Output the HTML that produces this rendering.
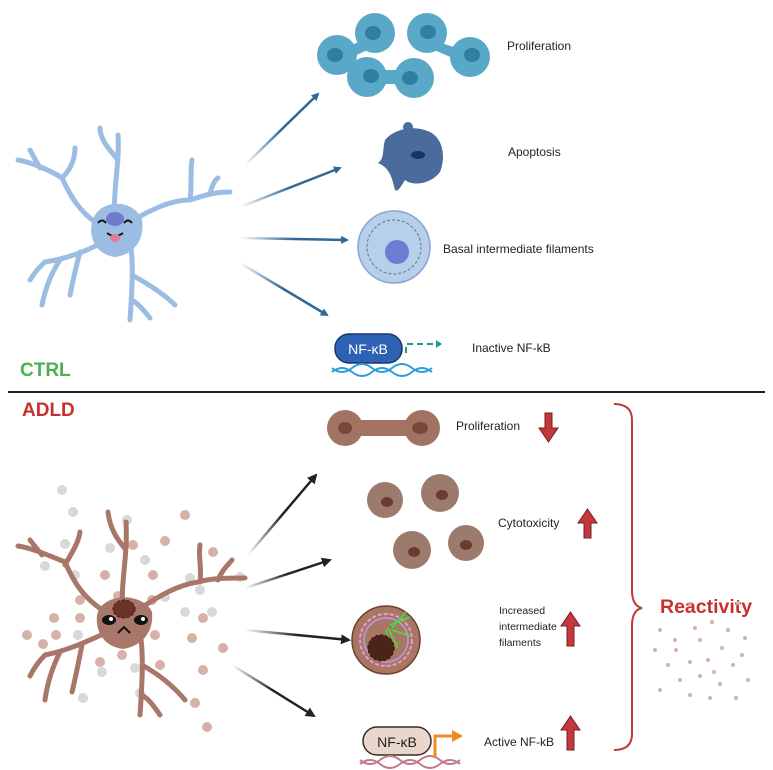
<!DOCTYPE html>
<html><head><meta charset="utf-8"><style>
html,body{margin:0;padding:0;background:#fff}
svg{display:block}
text{font-family:"Liberation Sans",sans-serif}
</style></head><body>
<svg width="773" height="770" viewBox="0 0 773 770" xmlns="http://www.w3.org/2000/svg">
<defs>
<linearGradient id="gb" x1="0" y1="0" x2="1" y2="0"><stop offset="0" stop-color="#2f6896" stop-opacity="0"/><stop offset=".5" stop-color="#2f6896"/></linearGradient>
<linearGradient id="gk" x1="0" y1="0" x2="1" y2="0"><stop offset="0" stop-color="#222" stop-opacity="0"/><stop offset=".5" stop-color="#222"/></linearGradient>
<marker id="ab" markerWidth="8" markerHeight="8" refX="6" refY="4" orient="auto" markerUnits="userSpaceOnUse"><path d="M0,0L8,4L0,8z" fill="#2f6896"/></marker>
<marker id="ak" markerWidth="10" markerHeight="10" refX="8" refY="5" orient="auto" markerUnits="userSpaceOnUse"><path d="M0,0L10,5L0,10z" fill="#222"/></marker>
</defs>
<rect width="773" height="770" fill="#fff"/>
<line x1="8" y1="392" x2="765" y2="392" stroke="#222" stroke-width="2"/>

<g fill="none" stroke="#9bbce3" stroke-linecap="round" stroke-width="5">
<path d="M115,228 C112,190 120,165 118,135 M118,160 C110,150 100,140 100,128"/>
<path d="M105,228 C80,215 70,195 62,178 C50,170 30,162 18,160 M62,178 C70,170 75,160 75,148 M40,168 L30,150"/>
<path d="M125,225 C150,210 170,200 190,200 C205,195 215,192 230,192 M190,200 C192,185 190,172 192,160 M210,194 C212,185 215,180 218,178"/>
<path d="M110,238 C90,250 70,258 45,262 C38,268 33,275 30,280 M60,260 C50,275 45,290 42,305 M80,252 C75,270 72,285 70,295"/>
<path d="M130,242 C134,262 132,290 130,320 M132,300 C140,305 145,312 150,318 M132,275 C150,285 165,295 175,305"/>
</g>
<path d="M92,222 C98,198 134,198 142,220 C145,242 132,255 115,257 C98,255 88,240 92,222z" fill="#9bbce3"/>
<ellipse cx="115" cy="219" rx="9" ry="7" fill="#6f7cc9"/>
<path d="M98,223 q4,-5 8,0 M124,223 q4,-5 8,0" stroke="#111" stroke-width="2" fill="none"/>
<path d="M107,233 q8,6 16,0" stroke="#111" stroke-width="2" fill="none"/>
<ellipse cx="115" cy="238" rx="5" ry="4" fill="#e9799a"/>
<text x="20" y="376" font-size="19" font-weight="bold" fill="#4caf50">CTRL</text>

<g stroke="url(#gb)" stroke-width="2.5" marker-end="url(#ab)">
<line x1="245" y1="165" x2="318" y2="94"/>
<line x1="240" y1="207" x2="340" y2="168"/>
<line x1="240" y1="238" x2="347" y2="240"/>
<line x1="240" y1="263" x2="327" y2="315"/>
</g>

<g fill="#5aa8c8">
<circle cx="337" cy="55" r="20"/><circle cx="375" cy="33" r="20"/><path d="M345,48 L368,38 L372,48 L350,58z"/>
<circle cx="427" cy="33" r="20"/><circle cx="470" cy="57" r="20"/><path d="M433,40 L462,50 L457,60 L430,48z"/>
<circle cx="367" cy="77" r="20"/><circle cx="414" cy="78" r="20"/><rect x="367" y="70" width="47" height="14"/>
</g>
<g fill="#2f7ea3"><ellipse cx="335" cy="55" rx="8" ry="7"/><ellipse cx="373" cy="33" rx="8" ry="7"/><ellipse cx="428" cy="32" rx="8" ry="7"/><ellipse cx="472" cy="55" rx="8" ry="7"/><ellipse cx="371" cy="76" rx="8" ry="7"/><ellipse cx="410" cy="78" rx="8" ry="7"/></g>
<text x="507" y="50" font-size="12" fill="#222">Proliferation</text>

<path d="M385,140 C395,128 415,125 430,132 C445,140 445,160 440,172 C430,185 412,186 405,180 C400,188 398,192 395,190 C392,178 390,168 378,163 C385,158 382,150 385,140z" fill="#4a6c9c"/>
<circle cx="408" cy="127" r="5" fill="#4a6c9c"/><ellipse cx="418" cy="155" rx="7" ry="4" fill="#1b3560"/>
<text x="508" y="156" font-size="12" fill="#222">Apoptosis</text>

<circle cx="394" cy="247" r="36" fill="#b8cfe9" stroke="#88a5d3" stroke-width="1.5"/>
<circle cx="394" cy="247" r="27" fill="none" stroke="#5e7490" stroke-width="1" stroke-dasharray="3,2"/>
<circle cx="397" cy="252" r="12" fill="#6f7dd0"/>
<text x="443" y="253" font-size="12" fill="#222">Basal intermediate filaments</text>

<rect x="335" y="334" width="67" height="29" rx="14" fill="#2e62b4" stroke="#16396d" stroke-width="1.5"/>
<text x="368" y="354" font-size="14" fill="#fff" text-anchor="middle">NF-κB</text>
<path d="M332,368 q10,8 20,0 t20,0 t20,0 t20,0 t20,0 M332,372 q10,-8 20,0 t20,0 t20,0 t20,0 t20,0" stroke="#2ba0d8" stroke-width="2" fill="none"/>
<path d="M406,353 v-9 h30" stroke="#1a9b8f" stroke-width="2" stroke-dasharray="6,4" fill="none"/>
<path d="M436,340 l6,4 l-6,4z" fill="#1a9b8f"/>
<text x="472" y="352" font-size="12" fill="#222">Inactive NF-kB</text>

<text x="22" y="416" font-size="19" font-weight="bold" fill="#c8302f">ADLD</text>
<g fill="#d8d8d8"><circle cx="62" cy="490" r="5"/><circle cx="73" cy="512" r="5"/><circle cx="65" cy="544" r="5"/><circle cx="110" cy="548" r="5"/><circle cx="145" cy="560" r="5"/><circle cx="45" cy="566" r="5"/><circle cx="75" cy="575" r="5"/><circle cx="165" cy="597" r="5"/><circle cx="200" cy="590" r="5"/><circle cx="212" cy="612" r="5"/><circle cx="185" cy="612" r="5"/><circle cx="240" cy="577" r="5"/><circle cx="78" cy="635" r="5"/><circle cx="102" cy="672" r="5"/><circle cx="135" cy="668" r="5"/><circle cx="83" cy="698" r="5"/><circle cx="140" cy="693" r="5"/><circle cx="190" cy="578" r="5"/><circle cx="127" cy="520" r="5"/></g>
<g fill="#d6b1a7"><circle cx="185" cy="515" r="5"/><circle cx="133" cy="545" r="5"/><circle cx="165" cy="541" r="5"/><circle cx="213" cy="552" r="5"/><circle cx="105" cy="575" r="5"/><circle cx="153" cy="575" r="5"/><circle cx="80" cy="600" r="5"/><circle cx="54" cy="618" r="5"/><circle cx="80" cy="618" r="5"/><circle cx="27" cy="635" r="5"/><circle cx="56" cy="635" r="5"/><circle cx="43" cy="644" r="5"/><circle cx="155" cy="635" r="5"/><circle cx="192" cy="638" r="5"/><circle cx="223" cy="648" r="5"/><circle cx="203" cy="618" r="5"/><circle cx="122" cy="655" r="5"/><circle cx="100" cy="662" r="5"/><circle cx="160" cy="665" r="5"/><circle cx="203" cy="670" r="5"/><circle cx="195" cy="703" r="5"/><circle cx="207" cy="727" r="5"/><circle cx="152" cy="600" r="5"/><circle cx="118" cy="596" r="5"/></g>
<g fill="none" stroke="#a9776a" stroke-linecap="round" stroke-width="5">
<path d="M123,615 C120,580 128,560 126,522 M126,550 C118,540 110,530 108,512"/>
<path d="M110,615 C85,600 75,585 65,562 C50,556 32,548 18,546 M65,565 C70,555 78,545 80,532 M42,555 L30,540"/>
<path d="M135,612 C160,595 178,585 198,582 C212,578 228,578 245,578 M200,582 C202,568 198,555 200,545 M218,580 C222,570 228,565 232,560"/>
<path d="M112,630 C90,640 70,650 45,655 C38,662 33,670 30,676 M60,652 C52,668 47,685 45,700 M82,645 C78,665 75,680 72,692"/>
<path d="M140,632 C144,655 142,685 140,715 M142,695 C150,700 155,708 160,715 M142,665 C160,675 175,688 185,700"/>
</g>
<path d="M97,615 C102,592 143,592 152,612 C154,632 142,646 123,649 C106,647 95,634 97,615z" fill="#a9776a"/>
<ellipse cx="124" cy="609" rx="11" ry="9" fill="#6b3326" stroke="#3a1a12" stroke-dasharray="3,2"/>
<ellipse cx="109" cy="620" rx="7" ry="5" fill="#111"/><ellipse cx="141" cy="620" rx="7" ry="5" fill="#111"/>
<circle cx="111" cy="619" r="2" fill="#fff"/><circle cx="143" cy="619" r="2" fill="#fff"/>
<path d="M118,633 l6,-6 l6,6" stroke="#111" stroke-width="2" fill="none"/>

<g stroke="url(#gk)" stroke-width="2.5" marker-end="url(#ak)">
<line x1="248" y1="555" x2="316" y2="475"/>
<line x1="245" y1="588" x2="330" y2="560"/>
<line x1="245" y1="630" x2="349" y2="640"/>
<line x1="232" y1="665" x2="314" y2="716"/>
</g>

<g fill="#a27262"><circle cx="345" cy="428" r="18"/><circle cx="422" cy="428" r="18"/><rect x="345" y="420" width="77" height="16"/></g>
<g fill="#7a4838"><ellipse cx="345" cy="428" rx="7" ry="6"/><ellipse cx="420" cy="428" rx="8" ry="6"/></g>
<text x="456" y="430" font-size="12" fill="#222">Proliferation</text>
<path d="M545,413 h7 v15 h6 l-9.5,14 l-9.5,-14 h6z" fill="#c0393d" stroke="#7a1d20"/>

<g fill="#9c7a6c"><circle cx="385" cy="500" r="18"/><circle cx="440" cy="493" r="19"/><circle cx="412" cy="550" r="19"/><circle cx="466" cy="543" r="18"/></g>
<g fill="#6a3b2f"><ellipse cx="387" cy="502" rx="6" ry="5"/><ellipse cx="442" cy="495" rx="6" ry="5"/><ellipse cx="414" cy="552" rx="6" ry="5"/><ellipse cx="466" cy="545" rx="6" ry="5"/></g>
<text x="498" y="527" font-size="12" fill="#222">Cytotoxicity</text>
<path d="M584,538 h7 v-15 h6 l-9.5,-14 l-9.5,14 h6z" fill="#c0393d" stroke="#7a1d20"/>

<circle cx="386" cy="640" r="34" fill="#a87763" stroke="#6c4032" stroke-width="1.5"/>
<circle cx="386" cy="640" r="26" fill="none" stroke="#e89bd0" stroke-width="2" stroke-dasharray="4,2"/>
<circle cx="386" cy="640" r="22" fill="none" stroke="#b49de0" stroke-width="1.5"/>
<path d="M390,625 l20,-8 M392,630 l18,6 M388,628 l10,20 M392,628 l14,-16 M386,630 l5,22" stroke="#41e23e" stroke-width="1.5"/>
<circle cx="381" cy="648" r="13" fill="#4a2418" stroke="#2a120a" stroke-dasharray="3,2"/>
<text font-size="10.5" fill="#222"><tspan x="499" y="614">Increased</tspan><tspan x="499" y="630">intermediate</tspan><tspan x="499" y="646">filaments</tspan></text>
<path d="M567,646 h7 v-20 h6 l-9.5,-14 l-9.5,14 h6z" fill="#c0393d" stroke="#7a1d20"/>

<rect x="363" y="727" width="68" height="28" rx="14" fill="#ead7cb" stroke="#3a2a24" stroke-width="1.5"/>
<text x="397" y="747" font-size="14" fill="#222" text-anchor="middle">NF-κB</text>
<path d="M360,760 q10,8 20,0 t20,0 t20,0 t20,0 t20,0 M360,764 q10,-8 20,0 t20,0 t20,0 t20,0 t20,0" stroke="#c07a8a" stroke-width="2" fill="none"/>
<path d="M435,757 v-21 h18" stroke="#ef8b22" stroke-width="3" fill="none"/>
<path d="M452,730 l11,6 l-11,6z" fill="#ef8b22"/>
<text x="484" y="746" font-size="12" fill="#222">Active NF-kB</text>
<path d="M567,750 h7 v-20 h6 l-9.5,-14 l-9.5,14 h6z" fill="#c0393d" stroke="#7a1d20"/>

<path d="M614,404 q18,0 18,16 v170 q0,16 10,18 q-10,2 -10,18 v108 q0,16 -18,16" stroke="#c0393d" stroke-width="2" fill="none"/>
<text x="660" y="613" font-size="19.5" font-weight="bold" fill="#c8302f">Reactivity</text>
<g fill="#d6b1a7">
<circle cx="660" cy="630" r="2"/><circle cx="690" cy="605" r="2"/><circle cx="738" cy="603" r="2"/><circle cx="712" cy="622" r="2"/><circle cx="700" cy="640" r="2"/><circle cx="676" cy="650" r="2"/><circle cx="722" cy="648" r="2"/><circle cx="745" cy="638" r="2"/><circle cx="668" cy="665" r="2"/><circle cx="690" cy="662" r="2"/><circle cx="708" cy="660" r="2"/><circle cx="733" cy="665" r="2"/><circle cx="680" cy="680" r="2"/><circle cx="700" cy="676" r="2"/><circle cx="720" cy="684" r="2"/><circle cx="748" cy="680" r="2"/><circle cx="660" cy="690" r="2"/><circle cx="690" cy="695" r="2"/><circle cx="710" cy="698" r="2"/><circle cx="736" cy="698" r="2"/><circle cx="675" cy="640" r="2"/><circle cx="728" cy="630" r="2"/><circle cx="655" cy="650" r="2"/><circle cx="742" cy="655" r="2"/><circle cx="695" cy="628" r="2"/><circle cx="714" cy="672" r="2"/>
</g>
</svg>
</body></html>
